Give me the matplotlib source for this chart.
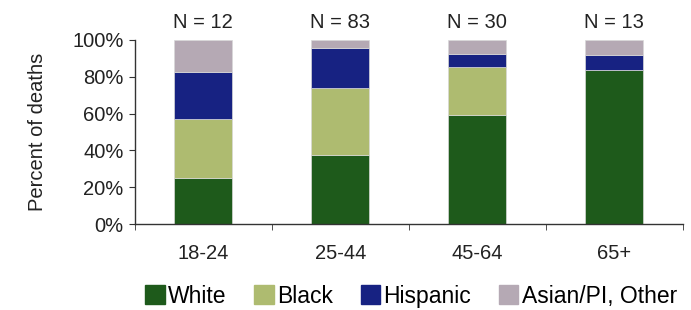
import numpy as np
import matplotlib.pyplot as plt

plt.rcParams['font.family'] = ['Liberation Sans', 'DejaVu Sans']

ages = ['18-24', '25-44', '45-64', '65+']
n_labels = ['N = 12', 'N = 83', 'N = 30', 'N = 13']
white = [24.8, 37.7, 59.0, 83.8]
black = [32.4, 36.0, 26.4, 0.0]
hispanic = [25.2, 21.8, 7.0, 7.9]
other = [17.6, 4.5, 7.6, 8.3]

series = [('White', white, '#1e5a1b'),
          ('Black', black, '#aebb70'),
          ('Hispanic', hispanic, '#172282'),
          ('Asian/PI, Other', other, '#b5a9b4')]

fig = plt.figure(figsize=(6.91, 3.10), dpi=100)
ax = fig.add_axes([0.195, 0.277, 0.793, 0.594])

x = np.arange(len(ages))
bottom = np.zeros(len(ages))
handles = []
for name, vals, col in series:
    b = ax.bar(x, vals, bottom=bottom, width=0.42, color=col, label=name,
               edgecolor='#d8d8d8', linewidth=0.5)
    handles.append(b)
    bottom += np.array(vals)

for xi, lab in zip(x, n_labels):
    ax.text(xi, 104.5, lab, ha='center', va='bottom', fontsize=14.5, color='#222222')

ax.set_xlim(-0.5, len(ages) - 0.5)
ax.set_ylim(0, 100)
ax.set_yticks(np.arange(0, 101, 20))
ax.set_yticklabels([f'{v}%' for v in range(0, 101, 20)], fontsize=14.5, color='#222222')
ax.set_xticks(x)
ax.set_xticklabels(ages, fontsize=14.5, color='#222222')
ax.set_xticks(np.arange(-0.5, len(ages)), minor=True)
ax.tick_params(axis='x', which='major', length=0, pad=14)
ax.tick_params(axis='x', which='minor', length=4, direction='out', color='#333333')
ax.tick_params(axis='y', length=4, direction='out', color='#333333', pad=4)
ax.set_ylabel('Percent of deaths', fontsize=14.5, color='#222222', labelpad=18)
for s in ['top', 'right']:
    ax.spines[s].set_visible(False)
for s in ['left', 'bottom']:
    ax.spines[s].set_color('#333333')
    ax.spines[s].set_linewidth(1.0)

for h in handles:
    for p in h:
        p.set_clip_on(False)

fig.legend(handles=[plt.Rectangle((0, 0), 1, 1, color=c) for _, _, c in series],
           labels=[n for n, _, _ in series],
           loc='center', bbox_to_anchor=(0.595, 0.045), ncol=4, frameon=False,
           fontsize=16.5, handlelength=0.85, handleheight=0.85, handletextpad=0.15,
           columnspacing=1.2, borderaxespad=0)

fig.savefig('out.png', dpi=100)
